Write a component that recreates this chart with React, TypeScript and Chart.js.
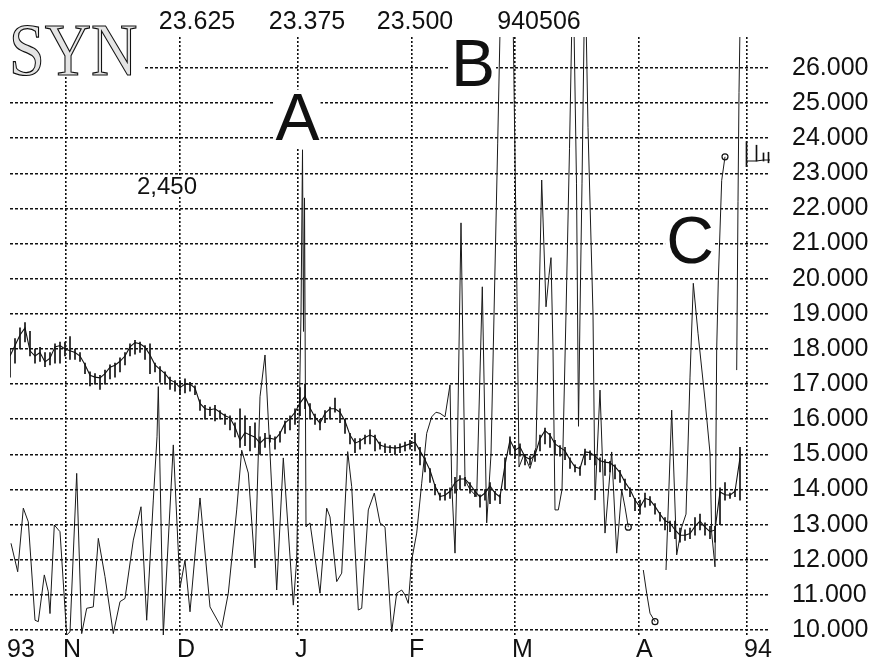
import React, { useEffect, useRef } from 'react';
import { Chart, registerables } from 'chart.js';

Chart.register(...registerables);

// ---- axis ticks ----
const monthTicks = [0, 11.2, 34, 57.6, 80.4, 101, 125.8, 147.4];
const monthLabels = ['93', 'N', 'D', 'J', 'F', 'M', 'A', '94'];
const priceTicks = [10, 11, 12, 13, 14, 15, 16, 17, 18, 19, 20, 21, 22, 23, 24, 25, 26];

// ---- daily price (close, low, high), one value per trading day ----
const priceClose = [
  17.8, 18.1, 18.4, 18.6, 17.95, 17.8, 17.9, 17.63, 17.74, 18.06,
  18.1, 18.0, 17.95, 17.9, 17.8, 17.55, 17.25, 17.2, 17.18, 17.3,
  17.48, 17.54, 17.65, 17.8, 18.06, 18.18, 18.15, 18.05, 17.83, 17.55,
  17.42, 17.3, 17.12, 17.05, 16.9, 17.0, 17.0, 16.89, 16.45, 16.3,
  16.27, 16.3, 16.2, 16.1, 16.04, 15.78, 15.4, 15.62, 15.55, 15.49,
  15.32, 15.46, 15.46, 15.43, 15.6, 15.89, 16.02, 16.2, 16.46, 16.65,
  16.32, 16.06, 15.89, 16.17, 16.3, 16.3, 16.2, 15.95, 15.55, 15.32,
  15.38, 15.48, 15.55, 15.49, 15.27, 15.22, 15.2, 15.18, 15.2, 15.25,
  15.3, 15.35, 15.1, 14.85, 14.55, 14.1, 13.8, 13.84, 13.95, 14.2,
  14.3, 14.3, 14.15, 13.95, 13.79, 13.9, 14.1, 13.9, 13.79, 14.7,
  15.41, 15.12, 15.21, 14.93, 14.86, 14.98, 15.45, 15.68, 15.55, 15.3,
  15.2, 15.1, 14.85, 14.64, 14.6, 15.07, 15.05, 14.95, 14.82, 14.78,
  14.76, 14.65, 14.48, 14.21, 14.0, 13.7, 13.5, 13.75, 13.7, 13.52,
  13.3, 13.11, 13.05, 12.85, 12.7, 12.7, 12.75, 12.95, 13.1, 12.93,
  12.8, 12.85, 13.93, 13.85, 13.84, 13.95, 14.9,
];
const priceLow = [
  17.2, 17.6, 18.0, 18.2, 17.8, 17.6, 17.65, 17.5, 17.55, 17.6,
  17.6, 17.8, 17.7, 17.7, 17.65, 17.3, 16.95, 17.0, 16.85, 17.0,
  17.15, 17.2, 17.35, 17.55, 17.8, 17.85, 17.9, 17.7, 17.3, 17.35,
  17.05, 17.0, 16.85, 16.8, 16.7, 16.75, 16.8, 16.7, 16.25, 16.0,
  16.1, 15.95, 16.0, 15.85, 15.7, 15.5, 15.2, 15.25, 15.1, 15.2,
  15.0, 15.2, 15.35, 15.15, 15.35, 15.6, 15.7, 15.85, 16.1, 16.3,
  16.0, 15.85, 15.7, 15.9, 16.0, 16.2, 15.9, 15.6, 15.3, 15.05,
  15.15, 15.3, 15.3, 15.1, 15.15, 15.05, 15.05, 15.0, 15.05, 15.1,
  15.15, 15.1, 14.7, 14.5, 14.2, 13.85, 13.7, 13.7, 13.75, 13.9,
  14.0, 14.1, 13.9, 13.8, 13.5, 13.7, 13.6, 13.7, 13.6, 14.0,
  15.0, 14.9, 14.95, 14.7, 14.7, 14.8, 15.1, 15.3, 15.2, 15.0,
  14.95, 14.85, 14.6, 14.5, 14.4, 14.7, 14.85, 14.7, 14.5, 14.4,
  14.5, 14.3, 14.2, 14.0, 13.8, 13.4, 13.3, 13.5, 13.55, 13.3,
  13.1, 12.85, 12.8, 12.6, 12.5, 12.55, 12.6, 12.7, 12.85, 12.7,
  12.6, 12.5, 13.0, 13.7, 13.75, 13.8, 13.7,
];
const priceHigh = [
  18.0, 18.3, 18.6, 18.75, 18.5, 18.0, 18.05, 17.9, 17.9, 18.15,
  18.2, 18.2, 18.35, 18.0, 17.9, 17.6, 17.35, 17.3, 17.25, 17.4,
  17.55, 17.6, 17.75, 17.9, 18.15, 18.25, 18.2, 18.1, 18.15, 17.6,
  17.5, 17.35, 17.2, 17.1, 17.1, 17.15, 17.05, 16.95, 16.55, 16.4,
  16.35, 16.4, 16.25, 16.15, 16.1, 15.9, 16.3, 16.1, 15.8, 15.9,
  15.5, 15.6, 15.55, 15.5, 15.65, 15.95, 16.1, 16.3, 16.9, 17.0,
  16.45, 16.15, 16.0, 16.25, 16.35, 16.6, 16.3, 16.0, 15.6, 15.45,
  15.45, 15.55, 15.7, 15.55, 15.35, 15.3, 15.25, 15.25, 15.3, 15.35,
  15.4, 15.6, 15.2, 14.9, 14.6, 14.15, 13.9, 14.0, 14.05, 14.35,
  14.4, 14.35, 14.2, 14.0, 13.85, 14.0, 14.2, 13.95, 13.85, 14.9,
  15.5, 15.25, 15.3, 15.0, 14.95, 15.1, 15.55, 15.75, 15.6, 15.4,
  15.25, 15.2, 14.9, 14.7, 14.65, 15.15, 15.1, 15.0, 14.9, 14.85,
  14.8, 14.7, 14.55, 14.3, 14.05, 13.75, 13.7, 13.9, 13.8, 13.6,
  13.35, 13.2, 13.1, 13.1, 12.9, 12.85, 12.9, 13.2, 13.3, 13.05,
  12.95, 12.95, 14.05, 14.2, 13.9, 14.0, 15.2,
];

// ---- last-price tail at the right edge ----
const tailX = [147.3, 149.3, 150.7, 151.7, 152];
const tailY = [23.35, 23.35, 23.38, 23.38, 23.38];
const tailBarX = [147.3, 149.3, 150.7, 151.7];
const tailLow = [23.19, 23.35, 23.35, 23.3];
const tailHigh = [23.9, 23.8, 23.58, 23.6];

// ---- oscillating (volatility) line, in segments ----
const volAX = [
  0.2, 1.54, 2.66, 3.66, 5.0, 5.66, 6.86, 7.66, 8.0, 8.86,
  10.0, 11.34, 12.0, 13.34, 14.34, 15.34, 16.66, 17.66, 19.0, 20.66,
  22.0, 23.0, 24.66, 26.2, 27.34, 28.66, 29.4, 29.66, 30.66, 32.66,
  34.0, 35.0, 36.0, 38.0, 40.0, 42.34, 43.66, 45.34, 46.34, 47.66,
  49.0, 50.0, 51.0, 52.0, 53.34, 54.66, 56.66, 57.34, 58.2, 58.5,
  58.7, 58.9, 59.2, 60.0, 62.0, 63.34, 64.0, 65.34, 66.34, 67.54,
  68.34, 69.66, 70.34, 71.66, 72.86, 74.0, 75.0, 76.34, 77.34, 78.34,
  79.0, 79.66, 80.34, 81.34, 82.34, 83.34, 84.34, 85.2, 86.0, 87.0,
  88.0, 88.34, 89.0, 89.4, 90.2, 91.0, 92.0, 93.34, 94.46, 95.34,
  96.2, 97.54, 99.6, 101.1, 101.4, 101.8, 102.8, 104.0, 105.2, 106.34,
  107.2, 107.8, 108.2, 108.6, 109.0, 109.66, 110.4, 111.2, 111.9, 112.6,
  113.3, 113.7, 114.0, 114.4, 115.0, 115.6, 116.2, 116.6, 117.0, 118.0,
  119.0, 120.34, 121.34, 122.34, 123.0, 123.66,
];
const volAY = [
  12.47, 11.66, 13.47, 13.08, 10.28, 10.24, 11.57, 11.09, 10.47, 12.99,
  12.8, 9.86, 9.95, 14.46, 9.9, 10.62, 10.66, 12.61, 11.52, 9.9,
  10.81, 10.9, 12.56, 13.51, 10.28, 13.7, 15.5, 16.93, 9.86, 15.27,
  11.2, 11.99, 10.52, 13.76, 10.66, 10.06, 11.05, 13.42, 15.12, 14.47,
  11.77, 16.64, 17.83, 15.04, 11.14, 14.9, 10.71, 12.0, 19.0, 23.67,
  18.5, 22.3, 12.94, 13.05, 11.05, 13.47, 13.22, 11.38, 11.62, 15.08,
  14.08, 10.57, 10.62, 13.42, 13.9, 13.05, 12.93, 9.95, 11.05, 11.14,
  11.0, 10.76, 11.99, 12.76, 14.18, 15.6, 16.07, 16.2, 16.17, 16.07,
  16.98, 14.18, 12.19, 14.5, 21.59, 14.27, 14.0, 13.8, 19.77, 13.05,
  15.0, 23.86, 38, 22.4, 19.5, 14.64, 15.0, 14.6, 15.2, 22.81,
  19.2, 20.1, 20.6, 18.0, 13.42, 13.42, 14.0, 19.0, 23.7, 29,
  22.7, 15.8, 19.0, 22.7, 29, 24.3, 21.1, 19.0, 13.7, 16.83,
  12.76, 15.07, 12.19, 13.99, 13.5, 12.93,
];
const volBX = [126.66, 127.34, 128.0, 129.0];
const volBY = [11.71, 11.05, 10.48, 10.24];
const volCX = [131.2, 132.34, 133.34, 134.34, 135.2, 136.0, 136.66, 137.6, 139.0, 140.0, 140.34, 141.0, 141.34, 141.66, 142.34, 143.0];
const volCY = [11.71, 16.26, 12.14, 12.93, 13.3, 17.2, 19.87, 18.45, 16.55, 15.04, 12.76, 11.8, 18.0, 19.96, 22.8, 23.47];
const volDX = [145.34, 145.6, 145.8, 146.2];
const volDY = [17.4, 22.2, 25.3, 29];

// segment end markers
const markX = [123.66, 129.0, 143.0];
const markY = [12.93, 10.24, 23.47];

// annotations (text, day, value)
const topLabels = ['23.625', '23.375', '23.500', '940506'];
const topLabelDays = [37.4, 59.4, 81, 105.8];
const letterTexts = ['A', 'B', 'C'];
const letterDays = [57.5, 92.6, 136];
const letterValues = [24.48, 26.01, 20.96];
const volumeText = '2,450';
const volumeDay = 31.4;
const volumeValue = 22.61;

const SANS = '"Liberation Sans", Arial, Helvetica, sans-serif';
const INK = '#111';

const pts = (xs: number[], ys: number[]) => xs.map((x, i) => ({ x, y: ys[i] }));

const annotPlugin = {
  id: 'annot',
  beforeDatasetsDraw(chart: any) {
    const { ctx, scales } = chart;
    const xs = scales.x;
    const ys = scales.y;
    ctx.save();
    // SYN title with white backing
    ctx.fillStyle = '#fff';
    ctx.fillRect(0, 0, 143, 76);
    ctx.save();
    ctx.translate(9, 75);
    ctx.scale(0.88, 1);
    ctx.font = '73px "Liberation Serif", "Times New Roman", serif';
    ctx.textAlign = 'left';
    ctx.textBaseline = 'alphabetic';
    ctx.fillStyle = '#e4e4e4';
    ctx.fillText('SYN', 0, 0);
    ctx.lineWidth = 1.2;
    ctx.strokeStyle = INK;
    ctx.strokeText('SYN', 0, 0);
    ctx.restore();

    const boxed = (t: string, px: number, py: number, size: number) => {
      ctx.font = `${size}px ${SANS}`;
      const w = ctx.measureText(t).width;
      ctx.fillStyle = '#fff';
      ctx.fillRect(px - w / 2 - 1, py - size * 0.48, w + 2, size * 0.88);
      ctx.fillStyle = INK;
      ctx.textAlign = 'center';
      ctx.textBaseline = 'middle';
      ctx.fillText(t, px, py);
    };
    letterTexts.forEach((t, i) => {
      boxed(t, xs.getPixelForValue(letterDays[i]), ys.getPixelForValue(letterValues[i]), 66);
    });
    boxed(volumeText, xs.getPixelForValue(volumeDay), ys.getPixelForValue(volumeValue), 24);

    ctx.font = `25px ${SANS}`;
    ctx.fillStyle = INK;
    ctx.textAlign = 'center';
    ctx.textBaseline = 'middle';
    topLabels.forEach((t, i) => {
      ctx.fillText(t, xs.getPixelForValue(topLabelDays[i]), 22);
    });
    ctx.restore();
  },
};

export default function App() {
  const ref = useRef<HTMLCanvasElement>(null);
  useEffect(() => {
    const volStyle = { type: 'line', borderColor: '#1a1a1a', borderWidth: 1, pointRadius: 0, tension: 0, fill: false };
    const chart = new Chart(ref.current as HTMLCanvasElement, {
      type: 'line',
      data: {
        datasets: [
          {
            type: 'bar',
            data: priceClose.map((_, i) => ({ x: i, y: [priceLow[i], priceHigh[i]] })),
            backgroundColor: INK,
            borderWidth: 0,
            barThickness: 1,
            grouped: false,
          } as any,
          {
            type: 'bar',
            data: tailBarX.map((x, i) => ({ x, y: [tailLow[i], tailHigh[i]] })),
            backgroundColor: INK,
            borderWidth: 0,
            barThickness: 1,
            grouped: false,
          } as any,
          { type: 'line', data: priceClose.map((v, i) => ({ x: i, y: v })), borderColor: INK, borderWidth: 1.1, pointRadius: 0, tension: 0 },
          { type: 'line', data: pts(tailX, tailY), borderColor: INK, borderWidth: 1.1, pointRadius: 0 },
          { ...volStyle, data: pts(volAX, volAY) },
          { ...volStyle, data: pts(volBX, volBY) },
          { ...volStyle, data: pts(volCX, volCY) },
          { ...volStyle, data: pts(volDX, volDY) },
          {
            type: 'line',
            data: pts(markX, markY),
            showLine: false,
            pointRadius: 3,
            pointBackgroundColor: '#fff',
            pointBorderColor: INK,
            pointBorderWidth: 1.2,
          },
        ] as any,
      },
      options: {
        responsive: false,
        animation: false,
        devicePixelRatio: 1,
        layout: { padding: { top: 37, left: 10, right: 0, bottom: 0 }, autoPadding: false },
        plugins: { legend: { display: false }, tooltip: { enabled: false } },
        scales: {
          x: {
            type: 'linear',
            min: 0,
            max: 152,
            bounds: 'data',
            offset: false,
            afterBuildTicks: (s: any) => { s.ticks = monthTicks.map((v) => ({ value: v })); },
            afterFit: (s: any) => {
              s.height = 26;
              s.paddingLeft = 0; s.paddingRight = 0; s.paddingTop = 0; s.paddingBottom = 0;
            },
            grid: {
              offset: false,
              color: (c: any) => (c.tick && c.tick.value === 0 ? 'rgba(0,0,0,0)' : INK),
              lineWidth: 1.6,
              drawTicks: false,
            },
            border: { display: false, dash: [2, 2] },
            ticks: {
              autoSkip: false,
              maxRotation: 0,
              align: 'start',
              labelOffset: -3,
              padding: 0,
              color: INK,
              font: { family: SANS, size: 25 },
              callback: (_v: any, i: number) => monthLabels[i],
            },
          },
          y: {
            type: 'linear',
            position: 'right',
            min: 9.86,
            max: 26.88,
            bounds: 'data',
            offset: false,
            afterBuildTicks: (s: any) => { s.ticks = priceTicks.map((v) => ({ value: v })); },
            afterFit: (s: any) => {
              s.width = 106;
              s.paddingLeft = 0; s.paddingRight = 0; s.paddingTop = 0; s.paddingBottom = 0;
            },
            grid: { color: INK, lineWidth: 1.6, drawTicks: false },
            border: { display: false, dash: [3, 2] },
            ticks: {
              padding: 22,
              color: INK,
              font: { family: SANS, size: 25 },
              callback: (v: any) => Number(v).toFixed(3),
            },
          },
        },
      } as any,
      plugins: [annotPlugin],
    });
    return () => chart.destroy();
  }, []);
  return (
    <div style={{ position: 'fixed', left: 0, top: 0, width: 876, height: 661, background: '#fff' }}>
      <canvas ref={ref} width={876} height={661} style={{ display: 'block', width: 876, height: 661 }} />
    </div>
  );
}
